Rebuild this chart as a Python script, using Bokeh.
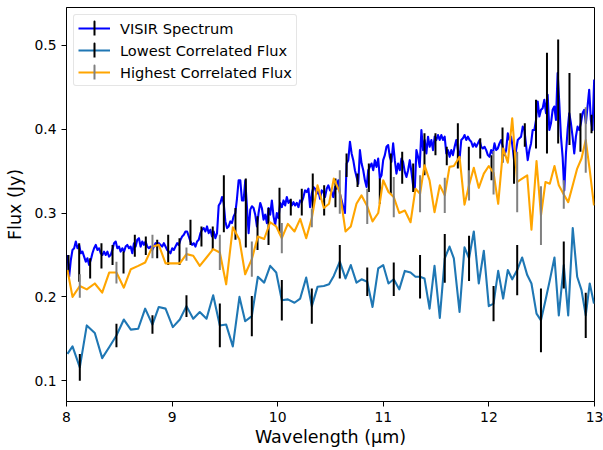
import numpy as np
from bokeh.plotting import figure
from bokeh.models import Range1d, Legend, LegendItem
from bokeh.embed import file_html
from bokeh.resources import INLINE

# ---------------- data ----------------
visir_flux = [
    .250, .224, .244, .256, .258, .266, .258, .262, .252, .254, .248, .242, .246, .238, .244, .252,
    .258, .262, .256, .258, .252, .250, .254, .250, .254, .248, .250, .256, .264, .266, .258, .260,
    .254, .258, .254, .260, .262, .258, .260, .252, .264, .260, .268, .270, .260, .266, .262, .266,
    .260, .258, .260, .256,
    .260, .264, .260, .264, .262, .260, .264, .260, .256, .254, .252, .258, .256, .260, .264, .262,
    .268, .272, .274, .278, .278, .272, .266, .262, .264, .260, .266, .268, .276, .280, .282, .278,
    .284, .276, .280, .272, .278, .270, .276, .309, .312, .319, .312, .290, .282, .284, .290, .288,
    .296, .300, .317, .339, .339, .315,
    .315, .339, .307, .276, .304, .308, .306, .298, .284, .300, .312, .306, .292, .298, .288, .306,
    .298, .315, .296, .286, .300, .294, .312, .307, .315, .309, .319, .312, .315, .309, .313, .309,
    .312, .307, .315, .313, .319, .327, .325, .329, .307, .323, .331, .329, .323, .327, .317, .327,
    .325, .319, .329, .333, .327,
    .325, .319, .331, .329, .339, .323, .315, .307, .300, .359, .363, .385, .371, .363, .351, .343,
    .335, .375, .359, .351, .339, .331, .351, .355, .359, .351, .363, .355, .365, .341, .345, .363,
    .369, .379, .381, .367, .361, .383, .363, .347, .359, .351, .365, .361, .349, .343, .351, .363,
    .349, .333, .327, .375, .367,
    .355, .399, .375, .387, .371, .391, .379, .387, .375, .391, .387, .393, .387, .393, .387, .391,
    .371, .375, .367, .375, .369, .379, .387, .375, .365, .387, .389, .393, .387, .391, .387, .385,
    .379, .383, .379, .383, .387, .379, .377, .379, .375, .369, .367, .375, .371, .383, .375, .377,
    .383, .387, .379, .369, .375,
    .395, .387, .391, .377, .359, .375, .387, .389, .391, .403, .399, .381, .363, .375, .383, .399,
    .399, .411, .433, .415, .423, .425, .435, .419, .441, .399, .407, .423, .427, .411, .467, .431,
    .391, .367, .327, .371, .399, .419, .407, .391, .371, .391, .403, .399, .407, .419, .423, .407,
    .427, .447, .411, .399, .459,
]
visir_wl = np.linspace(8.0095, 12.997, len(visir_flux))

visir_err_wl = [8.019, 8.120, 8.224, 8.331, 8.436, 8.540, 8.647, 8.751, 8.859, 8.963, 9.070, 9.174,
                9.278, 9.385, 9.490, 9.600, 9.698, 9.809, 9.913, 10.017, 10.124, 10.228, 10.332,
                10.440, 10.547, 10.652, 10.756, 10.863, 10.967, 11.071, 11.179, 11.283, 11.390,
                11.494, 11.601, 11.706, 11.810, 11.918, 12.025, 12.129, 12.238, 12.340, 12.446,
                12.550, 12.656, 12.763, 12.867, 12.972]
visir_err_flux = [0.240, 0.241, 0.234, 0.249, 0.250, 0.241, 0.261, 0.261, 0.257, 0.256, 0.254, 0.277,
                  0.272, 0.270, 0.311, 0.287, 0.300, 0.276, 0.284, 0.303, 0.307, 0.313, 0.326,
                  0.315, 0.324, 0.357, 0.339, 0.342, 0.326, 0.347, 0.354, 0.342, 0.370,
                  0.382, 0.368, 0.380, 0.351, 0.377, 0.354, 0.381, 0.355, 0.393, 0.406,
                  0.431, 0.445, 0.424, 0.396, 0.406]
visir_err = [0.010, 0.023, 0.012, 0.015, 0.012, 0.013, 0.013, 0.011, 0.011, 0.018, 0.016, 0.015,
             0.012, 0.014, 0.034, 0.019, 0.041, 0.020, 0.022, 0.027, 0.010, 0.016, 0.021,
             0.018, 0.017, 0.014, 0.008, 0.017, 0.015, 0.024, 0.019, 0.017, 0.025,
             0.013, 0.011, 0.027, 0.028, 0.012, 0.015, 0.021, 0.020, 0.014, 0.029,
             0.060, 0.062, 0.043, 0.023, 0.011]

corr_wl = [8.009, 8.057, 8.126, 8.192, 8.268, 8.338, 8.404, 8.473, 8.543, 8.609, 8.679, 8.745,
           8.814, 8.874, 8.938, 9.007, 9.073, 9.136, 9.200, 9.262, 9.326, 9.389, 9.452, 9.512,
           9.575, 9.638, 9.692, 9.755, 9.812, 9.872, 9.929, 9.986, 10.039, 10.096, 10.159,
           10.213, 10.270, 10.323, 10.377, 10.437, 10.486, 10.531, 10.588, 10.642, 10.692,
           10.746, 10.794, 10.848, 10.898, 10.952, 10.999, 11.049, 11.099, 11.151, 11.204,
           11.258, 11.305, 11.348, 11.390, 11.438, 11.485, 11.535, 11.582, 11.627, 11.668,
           11.722, 11.769, 11.812, 11.857, 11.904, 11.952, 11.999, 12.044, 12.088, 12.135,
           12.179, 12.221, 12.268, 12.315, 12.363, 12.403, 12.451, 12.493, 12.536, 12.577,
           12.621, 12.662, 12.709, 12.751, 12.794, 12.836, 12.877, 12.917, 12.955, 12.995]
lowest_flux = [0.132, 0.141, 0.116, 0.166, 0.157, 0.127, 0.140, 0.154, 0.173, 0.161, 0.162, 0.186,
               0.167, 0.188, 0.186, 0.164, 0.173, 0.189, 0.174, 0.182, 0.174, 0.202, 0.166, 0.167,
               0.141, 0.200, 0.171, 0.177, 0.224, 0.217, 0.237, 0.229, 0.196, 0.197, 0.193,
               0.198, 0.223, 0.189, 0.212, 0.213, 0.215, 0.225, 0.242, 0.222, 0.238,
               0.217, 0.221, 0.218, 0.188, 0.234, 0.238, 0.216, 0.221, 0.209, 0.231,
               0.229, 0.224, 0.224, 0.222, 0.186, 0.237, 0.175, 0.246, 0.260, 0.246,
               0.182, 0.259, 0.246, 0.278, 0.216, 0.255, 0.189, 0.192, 0.231, 0.198,
               0.232, 0.221, 0.232, 0.247, 0.226, 0.216, 0.180, 0.172, 0.196, 0.220,
               0.247, 0.178, 0.238, 0.178, 0.282, 0.224, 0.208, 0.178, 0.216, 0.192]
highest_flux = [0.232, 0.200, 0.213, 0.209, 0.216, 0.205, 0.229, 0.229, 0.211, 0.233, 0.237, 0.241,
                0.260, 0.262, 0.240, 0.240, 0.240, 0.251, 0.249, 0.237, 0.247, 0.257, 0.253, 0.215,
                0.283, 0.268, 0.227, 0.245, 0.272, 0.269, 0.289, 0.284, 0.270, 0.287, 0.278,
                0.293, 0.270, 0.294, 0.333, 0.306, 0.311, 0.341, 0.325, 0.278, 0.284,
                0.311, 0.321, 0.308, 0.290, 0.300, 0.339, 0.325, 0.319, 0.300, 0.303,
                0.289, 0.329, 0.323, 0.357, 0.339, 0.301, 0.333, 0.321, 0.355, 0.356,
                0.367, 0.310, 0.333, 0.354, 0.330, 0.347, 0.356, 0.348, 0.311, 0.377,
                0.360, 0.413, 0.337, 0.341, 0.345, 0.280, 0.362, 0.297, 0.337, 0.335,
                0.356, 0.333, 0.322, 0.313, 0.333, 0.353, 0.365, 0.387, 0.351, 0.309]
corr_err_idx = list(range(2, 95, 5))
lowest_err = [0.016, 0.014, 0.011, 0.013, 0.026, 0.024, 0.024, 0.021, 0.020, 0.017,
              0.020, 0.026, 0.029, 0.027, 0.021, 0.030, 0.038, 0.028, 0.027]
highest_err = [0.014, 0.013, 0.014, 0.008, 0.021, 0.021, 0.018, 0.011, 0.026, 0.021,
               0.024, 0.022, 0.021, 0.018, 0.026, 0.036, 0.035, 0.017, 0.039]

x_ticks = [8, 9, 10, 11, 12, 13]
y_ticks = [0.1, 0.2, 0.3, 0.4, 0.5]

# ---------------- figure ----------------
FONT = "DejaVu Sans"
p = figure(width=603, height=450, output_backend="svg", toolbar_location=None,
           x_range=Range1d(8, 13), y_range=Range1d(0.0753, 0.545),
           min_border_left=66, min_border_right=9, min_border_top=7, min_border_bottom=49)
p.grid.visible = False
p.outline_line_color = "black"
p.outline_line_width = 1
p.background_fill_color = "white"
p.border_fill_color = "white"

# VISIR spectrum
vf = np.array(visir_err_flux)
ve = np.array(visir_err)
r_v = p.line(visir_wl, visir_flux, line_color="#0000ff", line_width=2.1, line_join="round")
p.segment(x0=visir_err_wl, y0=vf - ve, x1=visir_err_wl, y1=vf + ve,
          line_color="black", line_width=2)

# Lowest correlated flux
cw = np.array(corr_wl)
lf = np.array(lowest_flux)
hf = np.array(highest_flux)
idx = np.array(corr_err_idx)
r_l = p.line(cw, lf, line_color="#1f77b4", line_width=2.1, line_join="round")
p.segment(x0=cw[idx], y0=lf[idx] - np.array(lowest_err), x1=cw[idx], y1=lf[idx] + np.array(lowest_err),
          line_color="black", line_width=2)

# Highest correlated flux
r_h = p.line(cw, hf, line_color="#ffa500", line_width=2.1, line_join="round")
p.segment(x0=cw[idx], y0=hf[idx] - np.array(highest_err), x1=cw[idx], y1=hf[idx] + np.array(highest_err),
          line_color="gray", line_width=2)

# legend-only error-bar symbols: a degenerate (zero-width) ellipse draws a vertical tick
nan = [float("nan")]
def tick_glyph(color):
    return p.ellipse(x=nan, y=nan, width=0.01, height=16, width_units="screen",
                     height_units="screen", fill_alpha=0, line_color=color, line_width=2)
m_v = tick_glyph("black")
m_l = tick_glyph("black")
m_h = tick_glyph("gray")

legend = Legend(items=[
    LegendItem(label="VISIR Spectrum", renderers=[r_v, m_v]),
    LegendItem(label="Lowest Correlated Flux", renderers=[r_l, m_l]),
    LegendItem(label="Highest Correlated Flux", renderers=[r_h, m_h]),
], location="top_left")
legend.margin = 7
legend.padding = 4
legend.spacing = 4
legend.glyph_width = 32
legend.glyph_height = 18
legend.label_height = 18
legend.label_standoff = 10
legend.label_text_font = FONT
legend.label_text_font_size = "14.6px"
legend.label_text_color = "black"
legend.border_line_color = "#cccccc"
legend.border_line_width = 1
legend.background_fill_alpha = 0.8
if "border_radius" in legend.properties():
    legend.border_radius = 3
p.add_layout(legend)

for ax in (p.xaxis, p.yaxis):
    ax.axis_line_color = "black"
    ax.major_tick_line_color = "black"
    ax.major_tick_out = 5
    ax.major_tick_in = 0
    ax.minor_tick_out = 0
    ax.minor_tick_in = 0
    ax.major_label_text_font = FONT
    ax.major_label_text_font_size = "13.9px"
    ax.major_label_text_color = "black"
    ax.major_label_standoff = 5
    ax.axis_label_text_font = FONT
    ax.axis_label_text_font_size = "17.5px"
    ax.axis_label_text_font_style = "normal"
    ax.axis_label_text_color = "black"
    ax.axis_label_standoff = 6

p.xaxis.axis_label_standoff = 2
p.xaxis.ticker = x_ticks
p.yaxis.ticker = y_ticks
p.xaxis.axis_label = "Wavelength (μm)"
p.yaxis.axis_label = "Flux (Jy)"

open("out.html", "w").write(file_html(p, INLINE))
